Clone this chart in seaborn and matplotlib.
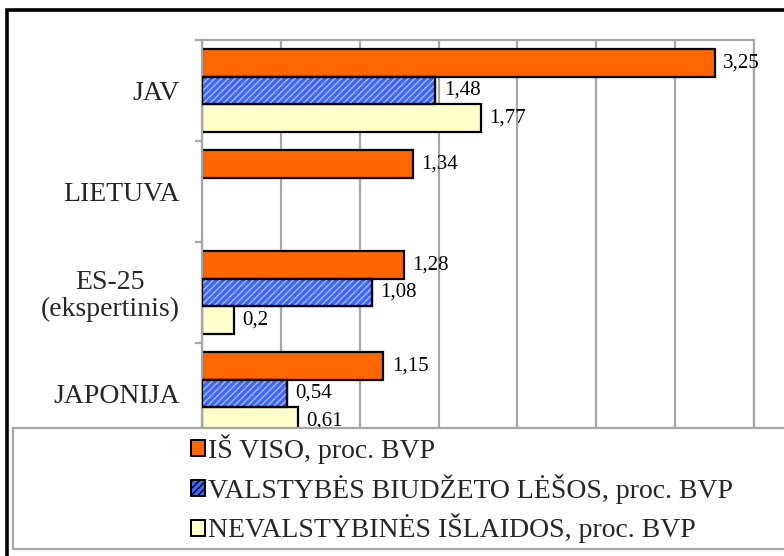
import matplotlib
matplotlib.use('Agg')
import matplotlib.pyplot as plt
import seaborn as sns
import pandas as pd
import numpy as np
from matplotlib.patches import Rectangle, Patch

categories = ['JAV', 'LIETUVA', 'ES-25\n(ekspertinis)', 'JAPONIJA']
series = ['IŠ VISO, proc. BVP',
          'VALSTYBĖS BIUDŽETO LĖŠOS, proc. BVP',
          'NEVALSTYBINĖS IŠLAIDOS, proc. BVP']
total = [3.25, 1.34, 1.28, 1.15]
state = [1.48, None, 1.08, 0.54]
private = [1.77, None, 0.2, 0.61]
colors = ['#FF6600', '#3D66FF', '#FFFFCC']

rows = []
for s, vals in zip(series, [total, state, private]):
    for c, v in zip(categories, vals):
        if v is not None:
            rows.append({'cat': c, 'series': s, 'value': v})
df = pd.DataFrame(rows)

sns.set_theme(style='white')
plt.rcParams['font.family'] = ['Liberation Serif', 'DejaVu Serif']
plt.rcParams['hatch.linewidth'] = 1.0

GRAY = '#a6a6a6'
fig = plt.figure(figsize=(7.84, 5.56), dpi=100)
ax = fig.add_axes([202/784, 1-444/556, 552/784, 404/556])

sns.barplot(data=df, y='cat', x='value', hue='series', order=categories,
            hue_order=series, palette=colors, saturation=1, orient='h', width=0.83,
            edgecolor='black', linewidth=1.6, legend=False, ax=ax, zorder=2)

# texture for the blue series
blue = matplotlib.colors.to_rgba(colors[1])
for p in list(ax.patches):
    if np.allclose(p.get_facecolor(), blue, atol=0.03):
        ov = Rectangle(p.get_xy(), p.get_width(), p.get_height(), facecolor='none',
                       edgecolor='#a9bdff', hatch='/////', lw=0, zorder=2.5)
        ax.add_patch(ov)
        ed = Rectangle(p.get_xy(), p.get_width(), p.get_height(), facecolor='none',
                       edgecolor='black', lw=1.6, zorder=2.6)
        ax.add_patch(ed)

def fmt(v):
    return ('%g' % round(v, 2)).replace('.', ',')

for cont in ax.containers:
    ax.bar_label(cont, fmt=fmt, padding=6, fontsize=15,
                 family='Liberation Serif', color='black')

ax.set_xlim(0, 3.5)
ax.set_xticks(np.arange(0, 3.51, 0.5))
ax.set_ylim(3.5, -0.5)
ax.grid(axis='x', color=GRAY, lw=1.6)
ax.grid(axis='y', visible=False)
ax.set_axisbelow(True)
ax.tick_params(axis='x', length=0, labelbottom=False)
ax.set_yticks(range(len(categories)))
ax.set_yticklabels(categories, fontsize=20, multialignment='center', linespacing=1.1)
ax.set_yticks([-0.5, 0.5, 1.5, 2.5, 3.5], minor=True)
ax.tick_params(axis='y', which='major', length=0, pad=16, left=True)
ax.tick_params(axis='y', which='minor', length=5, width=1.6, color=GRAY, left=True)
ax.set_xlabel('')
ax.set_ylabel('')
for sp in ax.spines.values():
    sp.set_color(GRAY)
    sp.set_linewidth(1.6)
    sp.set_visible(True)

# outer frame
fig.add_artist(Rectangle((7/784, -0.1), 1.2, 1 - 10/556 + 0.1,
                         transform=fig.transFigure, fill=False,
                         edgecolor='black', lw=2.6, zorder=-1))
# legend box
fig.add_artist(Rectangle((13/784, 1 - 549/556), 1.0, (549 - 428)/556,
                         transform=fig.transFigure, facecolor='white',
                         edgecolor=GRAY, lw=1.6, zorder=3))
handles = [Patch(facecolor=colors[0], edgecolor='black', lw=1.4),
           Patch(facecolor=colors[1], edgecolor='black', lw=1.4, hatch='/////'),
           Patch(facecolor=colors[2], edgecolor='black', lw=1.4)]
leg = fig.legend(handles, series, loc='upper left',
                 bbox_to_anchor=(191/784, 1 - 434/556), frameon=False,
                 prop={'family': 'Liberation Serif', 'size': 20},
                 handlelength=0.5, handleheight=0.5, handletextpad=0.12,
                 labelspacing=0.35, borderaxespad=0, borderpad=0)
leg.set_zorder(5)

fig.savefig('out.png', dpi=100)
